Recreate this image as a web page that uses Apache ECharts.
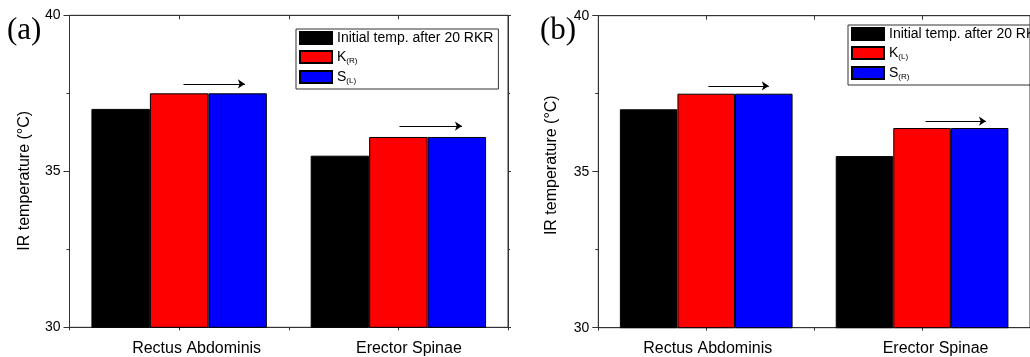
<!DOCTYPE html>
<html><head><meta charset="utf-8">
<script src="https://cdn.jsdelivr.net/npm/echarts@6/dist/echarts.min.js"></script>
<style>html,body{margin:0;padding:0;background:#fff}#c{width:1030px;height:357px}</style>
</head><body><div id="c"></div>
<script>
// ---- data ----
const categories = ['Rectus Abdominis', 'Erector Spinae'];
const namesA = ['Initial temp. after 20 RKR', 'K(R)', 'S(L)'];
const namesB = ['Initial temp. after 20 RKR', 'K(L)', 'S(R)'];
const initialA = [37.0, 35.5];
const kA = [37.5, 36.1];
const sA = [37.5, 36.1];
const initialB = [37.0, 35.5];
const kB = [37.5, 36.4];
const sB = [37.5, 36.4];
const yMin = 30, yMax = 40, yInterval = 5;
const yTitle = 'IR temperature (°C)';
const panelTags = ['(a)', '(b)'];
// arrows: [xStart, xEnd, y] in data space (x in category-index units)
const arrowsA = [[0.02, 0.30, 37.8], [1.005, 1.29, 36.45]];
const arrowsB = [[0.01, 0.29, 37.75], [1.016, 1.296, 36.62]];

// ---- styles / layout ----
const FONT = '"Liberation Sans", Arial, sans-serif';
const AX = '#333';
const colors = ['#000000', '#ff0000', '#0000ff'];
const grids = [
  {left: 69.5, top: 15.3, width: 438.5, height: 312},
  {left: 598.3, top: 15.7, width: 444, height: 312}
];
const labelPad = [[35, 21], [3, 27]];
const namePad = [[0, 19, 0, 0], [0, 0, 0, 13]];
const nameGap = [37, 39];
const legendPos = [{left: 296, top: 29}, {left: 848, top: 25}];
const tagPos = [{x: 7, y: 31}, {x: 540, y: 31}];

function legendFmt(name) {
  const m = name.match(/^(.)\((.)\)$/);
  if (m) return '{n|' + m[1] + '}{s|(' + m[2] + ')}';
  return '{n|' + name + '}';
}

const xAxis = [], yAxis = [], series = [], legend = [], graphic = [];
const panels = [
  {names: namesA, vals: [initialA, kA, sA], arrows: arrowsA},
  {names: namesB, vals: [initialB, kB, sB], arrows: arrowsB}
];
panels.forEach((p, gi) => {
  const xb = xAxis.length, yb = yAxis.length;
  const rich = {};
  categories.forEach((c, i) => {
    rich['c' + i] = {fontSize: 16, fontFamily: FONT, color: '#000', padding: [0, 0, 0, labelPad[gi][i]]};
  });
  xAxis.push({
    type: 'category', gridIndex: gi, data: categories, position: 'bottom',
    axisLine: {show: true, onZero: false, lineStyle: {color: AX, width: 1}},
    axisTick: {show: false},
    axisLabel: {margin: 13, formatter: (v, i) => '{c' + i + '|' + v + '}', rich: rich}
  });
  xAxis.push({
    type: 'value', gridIndex: gi, min: -0.5, max: 1.5, interval: 0.5, position: 'bottom',
    axisLine: {show: false, onZero: false}, axisLabel: {show: false}, splitLine: {show: false},
    axisTick: {show: true, length: 3, lineStyle: {color: AX}}
  });
  xAxis.push({
    type: 'value', gridIndex: gi, min: -0.5, max: 1.5, interval: 0.5, position: 'top',
    axisLine: {show: true, onZero: false, lineStyle: {color: AX}}, axisLabel: {show: false}, splitLine: {show: false},
    axisTick: {show: true, inside: true, length: 4, lineStyle: {color: AX}}
  });
  yAxis.push({
    type: 'value', gridIndex: gi, min: yMin, max: yMax, interval: yInterval, position: 'left',
    name: yTitle, nameLocation: 'middle', nameGap: nameGap[gi],
    nameTextStyle: {fontSize: 16, fontFamily: FONT, color: '#000', padding: namePad[gi]},
    axisLine: {show: true, onZero: false, lineStyle: {color: AX}},
    axisTick: {show: true, length: 6, lineStyle: {color: AX}},
    minorTick: {show: true, splitNumber: 2, length: 3, lineStyle: {color: AX}},
    splitLine: {show: false},
    axisLabel: {fontSize: 14, fontFamily: FONT, color: '#000', margin: 9}
  });
  yAxis.push({
    type: 'value', gridIndex: gi, min: yMin, max: yMax, interval: yInterval, position: 'right',
    axisLine: {show: true, onZero: false, lineStyle: {color: AX}},
    axisTick: {show: true, length: 3, lineStyle: {color: AX}},
    minorTick: {show: true, splitNumber: 2, length: 2, lineStyle: {color: AX}},
    splitLine: {show: false}, axisLabel: {show: false}
  });
  p.names.forEach((n, si) => {
    series.push({
      type: 'bar', name: n, xAxisIndex: xb, yAxisIndex: yb, data: p.vals[si],
      barGap: '0%', barCategoryGap: '20%',
      itemStyle: {color: colors[si], borderColor: '#000', borderWidth: 1},
      emphasis: {disabled: true}, animation: false
    });
  });
  series.push({
    type: 'line', xAxisIndex: xb + 1, yAxisIndex: yb, data: [], silent: true, animation: false,
    markLine: {
      silent: true, animation: false,
      symbol: ['none', 'arrow'], symbolSize: 7,
      label: {show: false},
      lineStyle: {color: '#000', width: 1, type: 'solid'},
      itemStyle: {color: '#000'},
      emphasis: {disabled: true},
      data: p.arrows.map(a => [{coord: [a[0], a[2]]}, {coord: [a[1], a[2]]}])
    }
  });
  legend.push({
    data: p.names, orient: 'vertical', left: legendPos[gi].left, top: legendPos[gi].top,
    padding: [2, 5, 4, 3], itemGap: 5, itemWidth: 32, itemHeight: 12, icon: 'rect',
    borderColor: AX, borderWidth: 1, selectedMode: false,
    formatter: legendFmt,
    textStyle: {
      color: '#000', fontSize: 14, fontFamily: FONT,
      rich: {
        n: {fontSize: 14, fontFamily: FONT, color: '#000', lineHeight: 16, verticalAlign: 'middle'},
        s: {fontSize: 8, fontFamily: FONT, color: '#000', lineHeight: 4, verticalAlign: 'bottom'}
      }
    }
  });
  graphic.push({
    type: 'text', x: tagPos[gi].x, y: tagPos[gi].y,
    style: {text: panelTags[gi], font: '31px "Liberation Serif", "Times New Roman", serif', fill: '#000', verticalAlign: 'middle'}
  });
});

const chart = echarts.init(document.getElementById('c'), null, {renderer: 'canvas'});
chart.setOption({
  animation: false,
  grid: grids.map(g => Object.assign({show: true, borderColor: AX, borderWidth: 1, containLabel: false}, g)),
  xAxis, yAxis, series, legend, graphic
});
</script></body></html>
